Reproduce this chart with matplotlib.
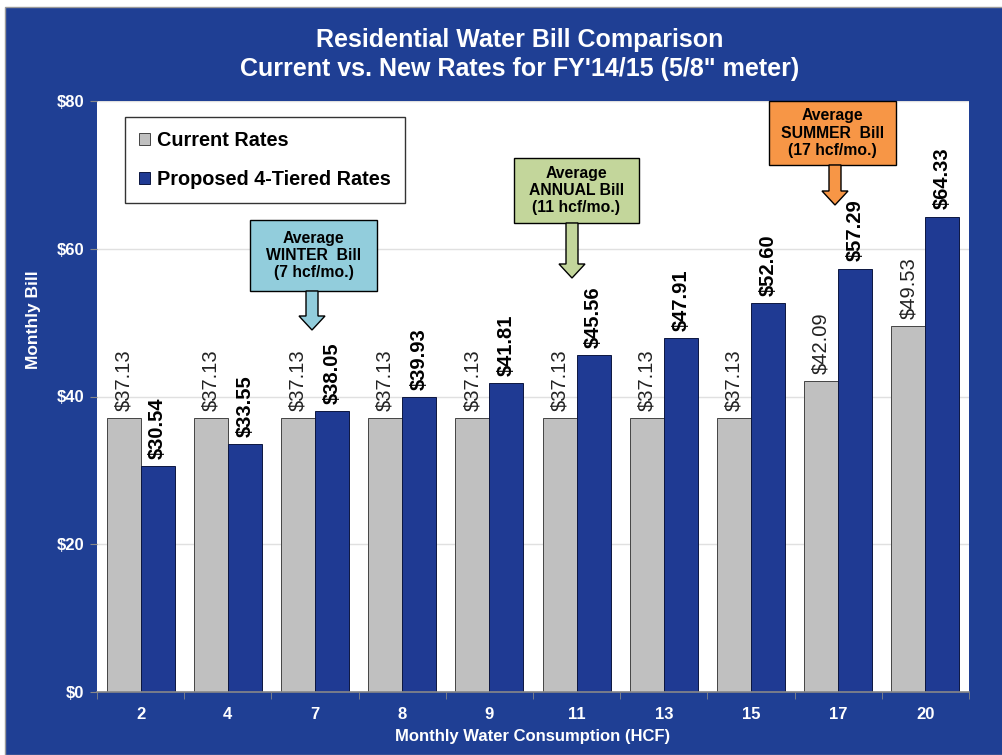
import matplotlib
matplotlib.use("Agg")
import matplotlib.pyplot as plt
from matplotlib.patches import FancyArrow, Rectangle
import numpy as np

plt.rcParams['font.family'] = ['Liberation Sans', 'DejaVu Sans']

categories = ["2", "4", "7", "8", "9", "11", "13", "15", "17", "20"]
current = [37.13, 37.13, 37.13, 37.13, 37.13, 37.13, 37.13, 37.13, 42.09, 49.53]
proposed = [30.54, 33.55, 38.05, 39.93, 41.81, 45.56, 47.91, 52.60, 57.29, 64.33]
y_ticks = [0, 20, 40, 60, 80]
y_tick_labels = ["$0", "$20", "$40", "$60", "$80"]

BLUE_BG = "#1F3F94"
BAR_BLUE = "#1F3A93"
BAR_GRAY = "#C0C0C0"

fig = plt.figure(figsize=(10.02, 7.55), dpi=100)
fig.patch.set_facecolor("white")
fig.patches.append(Rectangle((5/1002, 0), 1, 1 - 7/755, transform=fig.transFigure,
                             facecolor=BLUE_BG, edgecolor="#9a9a9a", linewidth=1, zorder=-10))

ax = fig.add_axes([97/1002, 1 - 692/755, (969 - 97)/1002, (692 - 101)/755])
ax.set_facecolor("white")

x = np.arange(len(categories))
w = 0.39
ax.bar(x - w/2, current, w, color=BAR_GRAY, edgecolor="#444444", linewidth=0.7, zorder=2, label="Current Rates")
ax.bar(x + w/2, proposed, w, color=BAR_BLUE, edgecolor="#0c1640", linewidth=0.7, zorder=2, label="Proposed 4-Tiered Rates")

for i in range(len(categories)):
    ax.text(x[i] - w/2, current[i] + 0.9, f"${current[i]:.2f}", rotation=90, ha="center", va="bottom",
            fontsize=14.5, color="#222222", zorder=3)
    ax.text(x[i] + w/2, proposed[i] + 1.0, f"${proposed[i]:.2f}", rotation=90, ha="center", va="bottom",
            fontsize=14.5, color="black", fontweight="bold", zorder=3)

ax.set_xlim(-0.5, len(categories) - 0.5)
ax.set_ylim(0, 80)
ax.set_yticks(y_ticks)
ax.set_yticklabels(y_tick_labels, color="white", fontweight="bold", fontsize=12)
ax.set_xticks(x)
ax.set_xticklabels(categories, color="white", fontweight="bold", fontsize=12)
ax.set_xticks(np.arange(-0.5, len(categories)), minor=True)
ax.tick_params(axis="x", which="major", length=0, pad=11)
ax.tick_params(axis="x", which="minor", length=5, color="#888888", direction="out")
ax.tick_params(axis="y", length=5, color="#888888", direction="out", pad=4)
ax.grid(axis="y", color="#E0E0E0", linewidth=1, zorder=0)
ax.set_axisbelow(True)
for s in ["top", "right", "left"]:
    ax.spines[s].set_visible(False)
ax.spines["bottom"].set_color("#888888")
ax.spines["bottom"].set_linewidth(1.2)

ax.set_ylabel("Monthly Bill", color="white", fontweight="bold", fontsize=12.5)
ax.yaxis.set_label_coords((41 - 97) / 872, (692 - 320) / 591)
ax.set_xlabel("Monthly Water Consumption (HCF)", color="white", fontweight="bold", fontsize=12, labelpad=5)

fig.text(0.519, 1 - 40/755, "Residential Water Bill Comparison", color="white", fontweight="bold",
         fontsize=18, ha="center", va="center")
fig.text(0.519, 1 - 69/755, "Current vs. New Rates for FY'14/15 (5/8\" meter)", color="white",
         fontweight="bold", fontsize=18, ha="center", va="center")

leg = ax.legend(loc="upper left", bbox_to_anchor=(28/872, 1 - 16/591), frameon=True, fancybox=False,
                edgecolor="black", prop={"weight": "bold", "size": 14.3},
                handlelength=0.55, handleheight=0.55, handletextpad=0.35, labelspacing=1.0,
                borderpad=0.7, borderaxespad=0)
leg.get_frame().set_linewidth(1.0)
leg.set_zorder(5)

def px2x(px):
    return (px - 97) / 87.2 - 0.5

def px2y(py):
    return (692 - py) / (591 / 80)

def callout(x0, x1, y0, y1, ax_x, tip_y, color, lines):
    bx0, bx1 = px2x(x0), px2x(x1)
    by0, by1 = px2y(y1), px2y(y0)
    r = Rectangle((bx0, by0), bx1 - bx0, by1 - by0, facecolor=color, edgecolor="black",
                  linewidth=1.0, clip_on=False, zorder=6)
    ax.add_patch(r)
    ax.text((bx0 + bx1) / 2, (by0 + by1) / 2, lines, ha="center", va="center", fontsize=11.3,
            fontweight="bold", color="black", linespacing=1.2, zorder=7, clip_on=False)
    ty = px2y(tip_y)
    hl = 14 / (591 / 80)
    arr = FancyArrow(ax_x, by0, 0, ty - by0, width=12 / 87.2, head_width=26 / 87.2,
                     head_length=hl, length_includes_head=True, facecolor=color,
                     edgecolor="black", linewidth=1.0, zorder=6, clip_on=False)
    ax.add_patch(arr)

callout(250, 377, 220, 291, px2x(312), 330, "#92CDDC", "Average\nWINTER  Bill\n(7 hcf/mo.)")
callout(514, 639, 158, 223, px2x(572), 278, "#C3D69B", "Average\nANNUAL Bill\n(11 hcf/mo.)")
callout(769, 896, 101, 165, px2x(835), 205, "#F79646", "Average\nSUMMER  Bill\n(17 hcf/mo.)")

fig.savefig("out.png", dpi=100, facecolor=fig.get_facecolor())
